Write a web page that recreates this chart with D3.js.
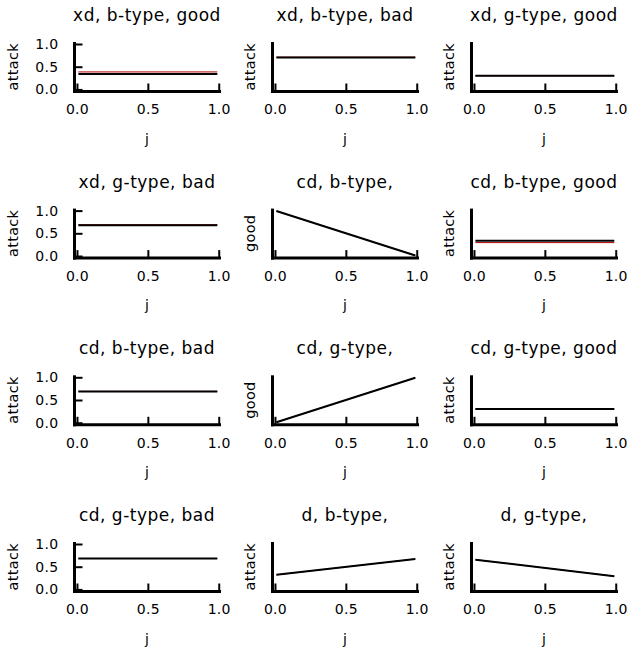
<!DOCTYPE html>
<html><head><meta charset="utf-8">
<script src="https://cdn.jsdelivr.net/npm/d3@7"></script>
<style>
body{margin:0;background:#fff;}
text{font-family:"DejaVu Sans",sans-serif;fill:#000;}
</style></head>
<body><svg id="chart" width="627" height="651"></svg>
<script>
// Panel titles (row-major, 4 rows x 3 columns)
const titles = [
  "xd, b-type, good","xd, b-type, bad","xd, g-type, good",
  "xd, g-type, bad","cd, b-type,","cd, b-type, good",
  "cd, b-type, bad","cd, g-type,","cd, g-type, good",
  "cd, g-type, bad","d, b-type,","d, g-type,"
];
const yLabels = [
  "attack","attack","attack",
  "attack","good","attack",
  "attack","good","attack",
  "attack","attack","attack"
];
// x grid (j) endpoints
const jValues = [0.01, 0.99];
// red series values at the j endpoints
const redSeries = [
  [0.385,0.385],[0.71,0.71],[0.30,0.30],
  [0.69,0.69],[0.99,0.01],[0.295,0.295],
  [0.69,0.69],[0.01,0.99],[0.30,0.30],
  [0.68,0.68],[0.32,0.67],[0.655,0.29]
];
// black series values at the j endpoints
const blackSeries = [
  [0.34,0.34],[0.70,0.70],[0.30,0.30],
  [0.68,0.68],[0.99,0.01],[0.335,0.335],
  [0.685,0.685],[0.01,0.99],[0.30,0.30],
  [0.68,0.68],[0.325,0.67],[0.655,0.29]
];
const xTicks = [0, 0.5, 1.0];
const yTicks = [0, 0.5, 1.0];

const svg = d3.select("#chart");
const colLeft = [73, 271, 470];
const rowTop = [42, 208.6, 375.3, 542];
const pw = 148, ph = 49.5;

titles.forEach((t, i) => {
  const r = Math.floor(i / 3), c = i % 3;
  const L = colLeft[c], T = rowTop[r];
  const g = svg.append("g").attr("transform", `translate(${L},${T})`);
  const x = d3.scaleLinear().domain([-0.028, 1.016]).range([0, pw]);
  const y = d3.scaleLinear().domain([-0.046, 1.044]).range([ph, 0]);

  // title
  g.append("text").attr("x", pw/2).attr("y", -21).attr("text-anchor","middle")
    .style("font-size","17px").style("letter-spacing","0.5px").text(t);
  // x label
  g.append("text").attr("x", pw/2).attr("y", ph + 52).attr("text-anchor","middle")
    .style("font-size","14px").text("j");
  // y label
  const ylx = c === 0 ? -60 : -21;
  g.append("text").attr("transform", `translate(${ylx},${ph/2}) rotate(-90)`)
    .attr("text-anchor","middle").attr("dy","0.35em")
    .style("font-size","14.5px").style("letter-spacing","0.3px").text(yLabels[i]);

  // series lines
  const line = d3.line().x(d => x(d[0])).y(d => y(d[1]));
  g.append("path").datum(jValues.map((j,k) => [j, redSeries[i][k]]))
    .attr("d", line).attr("fill","none").attr("stroke","#b00000").attr("stroke-width",1);
  g.append("path").datum(jValues.map((j,k) => [j, blackSeries[i][k]]))
    .attr("d", line).attr("fill","none").attr("stroke","#000").attr("stroke-width",2);

  // x axis
  const xa = g.append("g").attr("transform", `translate(0,${ph})`)
    .call(d3.axisBottom(x).tickValues(xTicks).tickFormat(d3.format(".1f")).tickSize(-8).tickPadding(13));
  xa.select(".domain").remove();
  xa.selectAll(".tick line").attr("stroke","#000").attr("stroke-width",2);
  xa.selectAll(".tick text").style("font-size","14px").style("font-family","DejaVu Sans").style("letter-spacing","0.3px");
  g.append("line").attr("x1",0).attr("x2",pw).attr("y1",ph).attr("y2",ph)
    .attr("stroke","#000").attr("stroke-width",3);

  // y axis
  if (c === 0) {
    const ya = g.append("g").attr("transform","translate(1.5,0)")
      .call(d3.axisLeft(y).tickValues(yTicks).tickFormat(d3.format(".1f")).tickSize(-8).tickPadding(16));
    ya.select(".domain").remove();
    ya.selectAll(".tick line").attr("stroke","#000").attr("stroke-width",2);
    ya.selectAll(".tick text").style("font-size","14px").style("font-family","DejaVu Sans").style("letter-spacing","0.3px");
  }
  g.append("line").attr("x1",1.5).attr("x2",1.5).attr("y1",0).attr("y2",ph+1.5)
    .attr("stroke","#000").attr("stroke-width",3);
});
</script></body></html>
